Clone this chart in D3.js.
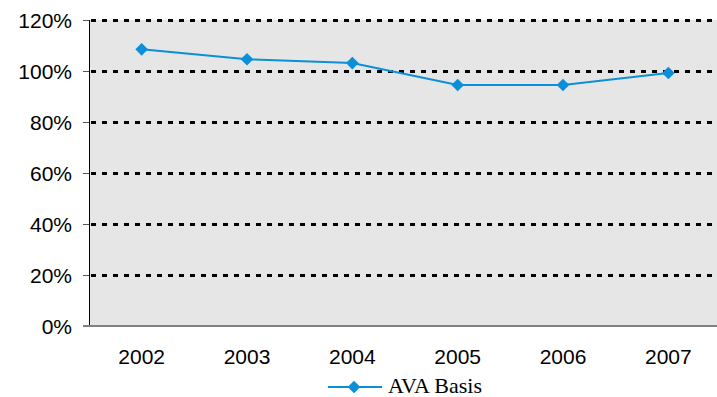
<!DOCTYPE html>
<html>
<head>
<meta charset="utf-8">
<script src="https://cdn.jsdelivr.net/npm/d3@7"></script>
<style>
  html, body { margin: 0; padding: 0; background: #fff; }
  svg { display: block; }
</style>
</head>
<body>
<svg id="chart" width="717" height="397"></svg>
<script>
// Annual AVA basis ratio
const years = ["2002", "2003", "2004", "2005", "2006", "2007"];
const avaBasis = [108.5, 104.6, 103.1, 94.5, 94.5, 99.2];
const yTicks = [0, 20, 40, 60, 80, 100, 120];
const seriesName = "AVA Basis";

const svg = d3.select("#chart");
const margin = { left: 89, top: 20, right: -4, bottom: 71 };
const W = 717, H = 397;
const plotW = W - margin.left - margin.right;
const plotH = H - margin.top - margin.bottom;

const x = d3.scaleBand().domain(years).range([0, plotW]);
const y = d3.scaleLinear().domain([0, 120]).range([plotH, 0]);

const g = svg.append("g").attr("transform", `translate(${margin.left},${margin.top})`);

// plot area background
g.append("rect")
  .attr("x", 0).attr("y", 0)
  .attr("width", plotW).attr("height", plotH)
  .attr("fill", "#e6e6e6");

// dashed gridlines
g.append("g").selectAll("line")
  .data(yTicks.filter(d => d > 0))
  .join("line")
  .attr("x1", 2).attr("x2", plotW)
  .attr("y1", d => Math.round(y(d)) + 0.5)
  .attr("y2", d => Math.round(y(d)) + 0.5)
  .attr("stroke", "#000")
  .attr("stroke-width", 3)
  .attr("stroke-dasharray", "5,6");

// y axis
const yAxis = g.append("g")
  .call(d3.axisLeft(y).tickValues(yTicks).tickFormat(d => d + "%").tickSize(6).tickPadding(11));
yAxis.select(".domain").attr("stroke", "#000").attr("d", `M0.5,0V${plotH}`);
yAxis.selectAll(".tick line").attr("stroke", "#555");
yAxis.selectAll("text")
  .attr("font-family", "Liberation Sans, Arial, sans-serif")
  .attr("font-size", 21)
  .attr("fill", "#000")
  .attr("dy", "0.35em");

// x axis
const xAxis = g.append("g")
  .attr("transform", `translate(0,${plotH})`)
  .call(d3.axisBottom(x).tickSize(0).tickPadding(23));
xAxis.select(".domain").attr("stroke", "#808080").attr("stroke-width", 2).attr("d", `M-6,0H${plotW}`);
xAxis.selectAll("text")
  .attr("font-family", "Liberation Sans, Arial, sans-serif")
  .attr("font-size", 21)
  .attr("fill", "#000");

const blue = "#0a8fd8";
const cx = d => x(d) + x.bandwidth() / 2;

// series line
const line = d3.line().x((d, i) => cx(years[i])).y(d => y(d));
g.append("path")
  .datum(avaBasis)
  .attr("fill", "none")
  .attr("stroke", blue)
  .attr("stroke-width", 2)
  .attr("d", line);

// diamond markers
const diamond = d3.symbol().type(d3.symbolSquare).size(80);
g.append("g").selectAll("path")
  .data(avaBasis)
  .join("path")
  .attr("d", diamond)
  .attr("fill", blue)
  .attr("transform", (d, i) => `translate(${cx(years[i])},${y(d)}) rotate(45)`);

// legend
const lg = svg.append("g").attr("transform", "translate(328,387)");
lg.append("line").attr("x1", 0).attr("x2", 54).attr("y1", 0).attr("y2", 0)
  .attr("stroke", blue).attr("stroke-width", 2);
lg.append("path").attr("d", diamond).attr("fill", blue)
  .attr("transform", "translate(26,0) rotate(45)");
lg.append("text")
  .attr("x", 60).attr("y", 5.5)
  .attr("font-family", "Liberation Serif, Times New Roman, serif")
  .attr("font-size", 22)
  .attr("fill", "#000")
  .text(seriesName);
</script>
</body>
</html>
